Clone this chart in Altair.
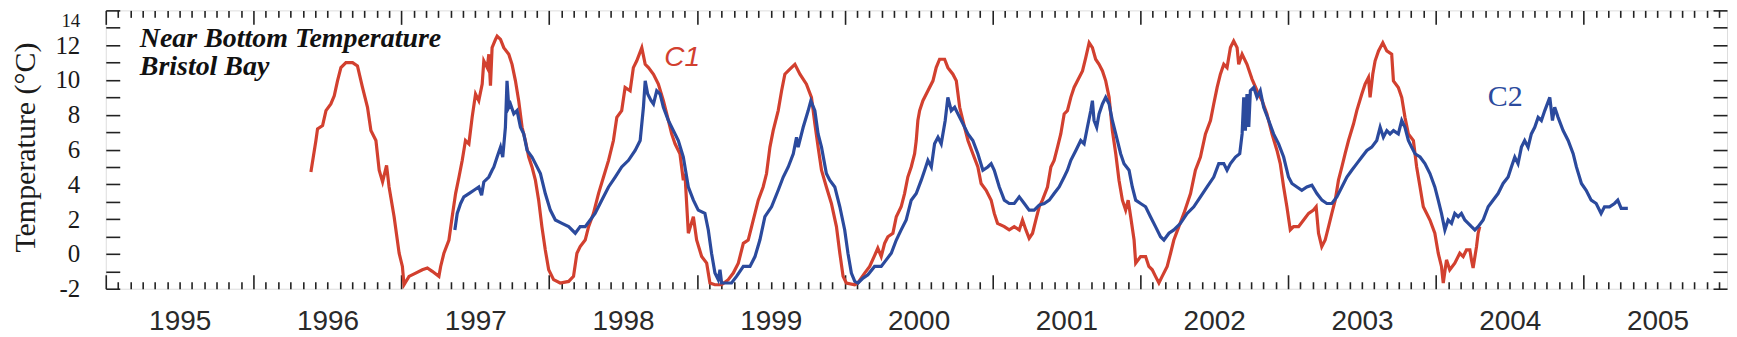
import altair as alt
import pandas as pd

# ---------------- data ----------------
c1_year = [1996.388, 1996.422, 1996.433, 1996.467, 1996.490, 1996.523, 1996.546, 1996.568, 1996.591, 1996.625,
           1996.670, 1996.703, 1996.737, 1996.771, 1996.794, 1996.828, 1996.850, 1996.873, 1996.900, 1996.917,
           1996.951, 1996.985, 1997.007, 1997.018, 1997.052, 1997.097, 1997.142, 1997.176, 1997.209, 1997.254,
           1997.266, 1997.288, 1997.322, 1997.344, 1997.367, 1997.390, 1997.412, 1997.434, 1997.457, 1997.479,
           1997.502, 1997.524, 1997.547, 1997.558, 1997.581, 1997.592, 1997.603, 1997.614, 1997.637, 1997.648,
           1997.671, 1997.693, 1997.727, 1997.749, 1997.772, 1997.794, 1997.817, 1997.839, 1997.862, 1997.884,
           1997.907, 1997.929, 1997.951, 1997.974, 1997.997, 1998.030, 1998.075, 1998.132, 1998.165, 1998.188,
           1998.210, 1998.244, 1998.267, 1998.300, 1998.334, 1998.368, 1998.402, 1998.435, 1998.458, 1998.491,
           1998.514, 1998.548, 1998.570, 1998.593, 1998.627, 1998.650, 1998.672, 1998.706, 1998.739, 1998.773,
           1998.807, 1998.829, 1998.852, 1998.885, 1998.908, 1998.919, 1998.942, 1998.976, 1998.998, 1999.032,
           1999.066, 1999.088, 1999.122, 1999.167, 1999.212, 1999.246, 1999.280, 1999.314, 1999.347, 1999.370,
           1999.415, 1999.448, 1999.471, 1999.494, 1999.516, 1999.550, 1999.573, 1999.595, 1999.629, 1999.663,
           1999.697, 1999.741, 1999.775, 1999.798, 1999.820, 1999.843, 1999.876, 1999.910, 1999.944, 1999.967,
           1999.989, 2000.011, 2000.068, 2000.089, 2000.135, 2000.169, 2000.202, 2000.224, 2000.247, 2000.270,
           2000.292, 2000.326, 2000.349, 2000.382, 2000.405, 2000.427, 2000.450, 2000.473, 2000.484, 2000.495,
           2000.507, 2000.529, 2000.563, 2000.597, 2000.619, 2000.642, 2000.676, 2000.698, 2000.732, 2000.755,
           2000.778, 2000.811, 2000.834, 2000.867, 2000.901, 2000.923, 2000.957, 2000.991, 2001.012, 2001.034,
           2001.080, 2001.113, 2001.147, 2001.181, 2001.203, 2001.226, 2001.248, 2001.271, 2001.293, 2001.316,
           2001.338, 2001.372, 2001.395, 2001.417, 2001.440, 2001.462, 2001.485, 2001.507, 2001.530, 2001.552,
           2001.575, 2001.609, 2001.631, 2001.654, 2001.676, 2001.698, 2001.721, 2001.744, 2001.766, 2001.789,
           2001.811, 2001.834, 2001.856, 2001.879, 2001.901, 2001.918, 2001.935, 2001.958, 2001.969, 2002.002,
           2002.036, 2002.058, 2002.081, 2002.103, 2002.126, 2002.148, 2002.182, 2002.205, 2002.227, 2002.261,
           2002.295, 2002.340, 2002.373, 2002.407, 2002.441, 2002.475, 2002.497, 2002.520, 2002.542, 2002.565,
           2002.587, 2002.610, 2002.632, 2002.655, 2002.666, 2002.689, 2002.722, 2002.756, 2002.790, 2002.824,
           2002.857, 2002.891, 2002.925, 2002.947, 2002.970, 2002.992, 2003.015, 2003.037, 2003.071, 2003.105,
           2003.139, 2003.172, 2003.190, 2003.206, 2003.228, 2003.251, 2003.274, 2003.296, 2003.319, 2003.341,
           2003.364, 2003.386, 2003.409, 2003.443, 2003.465, 2003.499, 2003.521, 2003.544, 2003.555, 2003.573,
           2003.589, 2003.612, 2003.641, 2003.668, 2003.701, 2003.713, 2003.746, 2003.769, 2003.791, 2003.814,
           2003.848, 2003.870, 2003.893, 2003.915, 2003.938, 2003.960, 2003.993, 2004.016, 2004.038, 2004.050,
           2004.072, 2004.094, 2004.128, 2004.162, 2004.185, 2004.207, 2004.230, 2004.241, 2004.252, 2004.275,
           2004.286, 2004.297]
c1_temp = [4.71, 6.52, 7.19, 7.38, 8.24, 8.62, 9.09, 9.95, 10.71, 11.00,
           11.00, 10.81, 9.57, 8.43, 7.09, 6.52, 4.81, 4.14, 5.09, 3.85,
           2.14, 0.04, -0.72, -1.77, -1.29, -1.10, -0.91, -0.81, -1.00, -1.29,
           -0.72, 0.04, 0.80, 2.14, 3.47, 4.42, 5.38, 6.52, 6.33, 7.85,
           9.19, 8.81, 9.76, 11.10, 10.71, 11.48, 9.67, 11.86, 12.33, 12.52,
           12.33, 11.86, 11.48, 10.90, 9.95, 8.81, 7.28, 6.52, 5.57, 5.00,
           4.24, 3.09, 1.57, 0.23, -0.91, -1.48, -1.67, -1.58, -1.29, 0.04,
           0.42, 0.80, 1.57, 2.33, 3.47, 4.42, 5.38, 6.52, 7.85, 8.24,
           9.57, 9.38, 10.71, 11.10, 11.86, 10.90, 10.71, 10.33, 9.76, 8.81,
           7.67, 6.90, 6.33, 5.76, 4.24, 4.62, 1.19, 2.14, 0.80, -0.15,
           -0.53, -1.67, -1.77, -1.77, -1.48, -1.10, -0.53, 0.61, 0.80, 1.57,
           3.09, 3.85, 4.62, 6.14, 7.09, 8.24, 9.38, 10.33, 10.62, 10.90,
           10.33, 9.76, 9.00, 7.48, 6.14, 4.81, 3.85, 2.90, 1.57, 0.04,
           -1.29, -1.67, -1.77, -1.67, -1.10, -0.72, -0.10, 0.33, -0.15, 0.61,
           0.99, 1.19, 2.14, 2.71, 3.47, 4.42, 5.00, 5.76, 6.52, 7.67,
           8.24, 8.81, 9.38, 9.95, 10.71, 11.19, 11.19, 10.71, 10.33, 9.95,
           8.43, 7.28, 6.52, 5.76, 5.00, 4.05, 3.66, 3.09, 2.33, 1.76,
           1.57, 1.38, 1.57, 1.38, 1.95, 1.38, 0.90, 1.19, 1.95, 2.71,
           3.09, 3.85, 5.00, 5.38, 6.14, 6.90, 8.05, 8.24, 9.00, 9.57,
           9.95, 10.52, 11.28, 12.14, 11.86, 11.19, 10.90, 10.52, 9.95, 9.00,
           7.09, 5.76, 4.24, 3.09, 2.52, 3.09, 2.14, 0.80, -0.53, -0.15,
           -0.15, -0.72, -0.91, -1.29, -1.67, -1.29, -0.72, 0.04, 0.80, 1.57,
           2.33, 3.47, 4.81, 5.57, 6.90, 7.67, 8.62, 9.57, 10.33, 10.90,
           10.71, 11.86, 12.24, 11.86, 10.90, 11.48, 10.90, 10.05, 9.38, 8.81,
           8.05, 6.90, 5.95, 5.19, 3.85, 2.71, 1.38, 1.57, 1.57, 1.95,
           2.33, 2.52, 2.71, 1.19, 0.42, 0.80, 1.57, 2.33, 3.09, 4.24,
           5.00, 5.76, 6.52, 7.48, 8.24, 9.19, 9.76, 10.14, 9.00, 10.33,
           11.10, 11.67, 12.14, 11.67, 11.48, 9.95, 9.57, 9.00, 7.85, 6.90,
           6.52, 5.00, 3.85, 2.71, 2.33, 1.95, 1.19, 0.04, -0.72, -1.67,
           -0.34, -0.91, -0.53, 0.04, -0.15, 0.23, 0.23, -0.34, -0.81, 0.42,
           1.19, 1.57]

c2_year = [1997.362, 1997.378, 1997.401, 1997.423, 1997.457, 1997.491, 1997.524, 1997.543, 1997.558, 1997.592,
           1997.614, 1997.626, 1997.648, 1997.671, 1997.686, 1997.704, 1997.715, 1997.727, 1997.738, 1997.761,
           1997.783, 1997.806, 1997.828, 1997.851, 1997.884, 1997.907, 1997.941, 1997.974, 1998.008, 1998.042,
           1998.087, 1998.132, 1998.177, 1998.210, 1998.244, 1998.278, 1998.311, 1998.356, 1998.402, 1998.447,
           1998.491, 1998.537, 1998.582, 1998.616, 1998.638, 1998.650, 1998.667, 1998.690, 1998.706, 1998.728,
           1998.751, 1998.773, 1998.807, 1998.841, 1998.874, 1998.908, 1998.942, 1998.976, 1999.009, 1999.054,
           1999.077, 1999.099, 1999.122, 1999.144, 1999.156, 1999.167, 1999.234, 1999.268, 1999.314, 1999.359,
           1999.393, 1999.426, 1999.460, 1999.505, 1999.550, 1999.584, 1999.618, 1999.652, 1999.674, 1999.685,
           1999.719, 1999.753, 1999.771, 1999.798, 1999.820, 1999.843, 1999.876, 1999.899, 1999.933, 1999.967,
           2000.000, 2000.022, 2000.045, 2000.068, 2000.090, 2000.124, 2000.157, 2000.202, 2000.247, 2000.281,
           2000.315, 2000.349, 2000.382, 2000.416, 2000.450, 2000.484, 2000.518, 2000.541, 2000.563, 2000.586,
           2000.608, 2000.631, 2000.653, 2000.680, 2000.698, 2000.721, 2000.744, 2000.766, 2000.800, 2000.834,
           2000.867, 2000.901, 2000.935, 2000.968, 2000.991, 2001.012, 2001.046, 2001.080, 2001.113, 2001.147,
           2001.181, 2001.215, 2001.248, 2001.282, 2001.316, 2001.350, 2001.384, 2001.417, 2001.451, 2001.485,
           2001.507, 2001.530, 2001.564, 2001.597, 2001.620, 2001.642, 2001.665, 2001.676, 2001.687, 2001.705,
           2001.721, 2001.744, 2001.766, 2001.789, 2001.811, 2001.834, 2001.867, 2001.890, 2001.924, 2001.946,
           2001.969, 2002.002, 2002.036, 2002.069, 2002.103, 2002.137, 2002.160, 2002.194, 2002.227, 2002.272,
           2002.317, 2002.362, 2002.407, 2002.452, 2002.497, 2002.531, 2002.565, 2002.587, 2002.610, 2002.644,
           2002.673, 2002.689, 2002.700, 2002.711, 2002.722, 2002.734, 2002.745, 2002.768, 2002.790, 2002.812,
           2002.835, 2002.869, 2002.902, 2002.936, 2002.970, 2003.003, 2003.026, 2003.060, 2003.093, 2003.127,
           2003.161, 2003.195, 2003.229, 2003.262, 2003.296, 2003.330, 2003.364, 2003.398, 2003.431, 2003.465,
           2003.499, 2003.533, 2003.566, 2003.600, 2003.623, 2003.645, 2003.668, 2003.690, 2003.713, 2003.746,
           2003.769, 2003.791, 2003.814, 2003.836, 2003.859, 2003.893, 2003.926, 2003.960, 2003.993, 2004.016,
           2004.038, 2004.061, 2004.083, 2004.106, 2004.128, 2004.151, 2004.173, 2004.196, 2004.219, 2004.241,
           2004.264, 2004.286, 2004.320, 2004.354, 2004.387, 2004.421, 2004.455, 2004.489, 2004.511, 2004.534,
           2004.556, 2004.579, 2004.601, 2004.624, 2004.646, 2004.669, 2004.692, 2004.714, 2004.737, 2004.771,
           2004.789, 2004.804, 2004.827, 2004.861, 2004.895, 2004.929, 2004.951, 2004.985, 2005.017, 2005.051,
           2005.085, 2005.118, 2005.141, 2005.175, 2005.209, 2005.231, 2005.254, 2005.299]
c2_temp = [1.38, 2.33, 2.90, 3.28, 3.47, 3.66, 3.85, 3.38, 4.14, 4.42,
           4.81, 5.00, 5.57, 6.14, 5.57, 7.28, 9.95, 8.43, 8.62, 8.05,
           8.24, 7.28, 6.90, 5.95, 5.57, 5.19, 4.62, 3.47, 2.52, 1.95,
           1.76, 1.57, 1.19, 1.57, 1.57, 1.95, 2.33, 3.09, 3.85, 4.42,
           5.00, 5.38, 5.95, 6.52, 8.43, 9.95, 9.19, 8.81, 8.62, 9.38,
           9.19, 8.43, 7.67, 7.09, 6.52, 5.57, 3.85, 3.09, 2.52, 2.33,
           1.38, 0.04, -1.10, -1.48, -0.91, -1.67, -1.67, -1.29, -0.72, -0.72,
           -0.15, 0.80, 2.14, 2.71, 3.66, 4.42, 5.00, 5.76, 6.71, 6.14,
           7.28, 8.24, 8.81, 8.24, 6.90, 6.14, 4.62, 4.24, 3.85, 2.71,
           1.38, 0.04, -1.10, -1.58, -1.67, -1.39, -1.20, -0.72, -0.72, -0.34,
           0.04, 0.80, 1.38, 1.95, 3.09, 3.47, 4.24, 4.81, 5.38, 5.00,
           6.33, 6.71, 6.33, 7.67, 9.00, 8.24, 8.43, 8.05, 7.48, 6.90,
           6.52, 5.76, 4.81, 5.00, 5.19, 4.81, 3.85, 3.09, 2.90, 2.90,
           3.28, 2.90, 2.52, 2.52, 2.81, 2.90, 3.09, 3.47, 3.85, 4.42,
           4.81, 5.38, 5.95, 6.52, 6.33, 7.28, 8.24, 8.81, 7.67, 7.28,
           8.05, 8.62, 9.00, 8.62, 7.67, 6.90, 5.76, 5.19, 4.81, 3.85,
           3.09, 2.90, 2.71, 2.14, 1.57, 0.99, 0.80, 1.19, 1.38, 1.76,
           2.33, 2.71, 3.28, 3.85, 4.42, 5.19, 5.19, 4.81, 5.19, 5.57,
           5.76, 6.90, 9.00, 7.09, 9.19, 7.30, 9.38, 9.57, 9.00, 9.38,
           8.43, 7.67, 6.90, 6.33, 5.57, 4.42, 4.05, 3.85, 3.66, 3.85,
           3.95, 3.47, 3.09, 2.90, 2.90, 3.28, 3.85, 4.42, 4.81, 5.19,
           5.57, 5.95, 6.14, 6.52, 7.28, 6.71, 7.09, 6.90, 7.09, 6.90,
           7.67, 7.28, 6.52, 6.14, 5.76, 5.57, 5.19, 4.62, 3.85, 3.09,
           2.33, 1.38, 1.95, 1.76, 2.33, 2.14, 2.33, 1.95, 1.76, 1.57,
           1.38, 1.57, 1.95, 2.71, 3.09, 3.47, 4.05, 4.42, 5.00, 5.57,
           5.19, 6.14, 6.52, 6.14, 6.90, 7.28, 7.85, 7.67, 8.24, 9.00,
           7.67, 8.43, 7.85, 7.09, 6.52, 5.76, 5.00, 4.05, 3.66, 3.09,
           2.90, 2.33, 2.71, 2.71, 2.90, 3.09, 2.62, 2.62]

series_names = ["C1", "C2"]
series_colors = ["#d2402f", "#2b4a9d"]
year_list = list(range(1995, 2006))
y_ticks = list(range(-2, 15))
y_labels = list(range(-2, 15, 2))

note_text = ["Near Bottom Temperature", "Bristol Bay"]
note_year = [1995.23, 1995.23]
note_temp = [11.9, 10.3]

tag_year = [1998.90, 2004.47]
tag_temp = [11.28, 9.0]

# ---------------- build tables ----------------
df = pd.concat([
    pd.DataFrame({"year": c1_year, "temp": c1_temp, "series": "C1"}),
    pd.DataFrame({"year": c2_year, "temp": c2_temp, "series": "C2"}),
], ignore_index=True)

notes = pd.DataFrame({"year": note_year, "temp": note_temp, "label": note_text})
tags = pd.DataFrame({"year": tag_year, "temp": tag_temp, "label": series_names})

X_DOMAIN = [1995.0, 2005.97]
xs = alt.Scale(domain=X_DOMAIN, nice=False, zero=False)
ys = alt.Scale(domain=[-2, 14], nice=False, zero=False)

TICK = "#222222"
major_x = [float(y) for y in year_list]
minor_x = [1995 + k / 12 for k in range(1, 12 * 11) if k % 12 != 0 and 1995 + k / 12 < X_DOMAIN[1]]
label_x = [y + 0.5 for y in year_list]


def tick_axis(orient, values, size):
    return alt.Axis(orient=orient, values=values, tickSize=size, offset=-size, labels=False,
                    domain=False, grid=False, title=None, tickColor=TICK, tickWidth=1.6)


lines = alt.Chart(df).mark_line(strokeWidth=3.2, clip=True).encode(
    x=alt.X("year:Q", scale=xs, axis=alt.Axis(
        orient="bottom", values=label_x, ticks=False, tickSize=0, domain=False, grid=False,
        labelExpr="'' + floor(datum.value)", labelFont="Liberation Sans", labelFontSize=28,
        labelColor="#2a2a2a", labelPadding=19, labelFlush=False, labelOverlap=False, title=None)),
    y=alt.Y("temp:Q", scale=ys, axis=alt.Axis(
        orient="left", values=y_labels, ticks=False, tickSize=0, domain=False, grid=False,
        labelExpr="datum.value < 0 ? '-' + abs(datum.value) : '' + datum.value",
        labelFont="Liberation Serif", labelColor="#1a1a1a", labelPadding=26,
        labelFontSize={"condition": {"test": "datum.value == 14", "value": 19}, "value": 25},
        labelOffset={"condition": {"test": "datum.value == 14", "value": 10}, "value": 0},
        labelFlush=False, labelOverlap=False,
        title="Temperature (°C)", titleFont="Liberation Serif", titleFontSize=30,
        titleFontWeight="normal", titleColor="#1a1a1a", titleAngle=270, titleAlign="center",
        titleBaseline="alphabetic", titleX=-71, titleY=137)),
    color=alt.Color("series:N", scale=alt.Scale(domain=series_names, range=series_colors), legend=None),
    detail="series:N",
)

ghost = alt.Chart(df).mark_line(strokeOpacity=0, opacity=0)

g1 = ghost.encode(x=alt.X("year:Q", scale=xs, axis=tick_axis("bottom", major_x, 14)),
                  y=alt.Y("temp:Q", scale=ys, axis=tick_axis("left", y_ticks, 14)), detail="series:N")
g2 = ghost.encode(x=alt.X("year:Q", scale=xs, axis=tick_axis("bottom", minor_x, 7)),
                  y=alt.Y("temp:Q", scale=ys, axis=tick_axis("right", y_ticks, 14)), detail="series:N")
g3 = ghost.encode(x=alt.X("year:Q", scale=xs, axis=tick_axis("top", major_x, 14)),
                  y=alt.Y("temp:Q", scale=ys, axis=None), detail="series:N")
g4 = ghost.encode(x=alt.X("year:Q", scale=xs, axis=tick_axis("top", minor_x, 7)),
                  y=alt.Y("temp:Q", scale=ys, axis=None), detail="series:N")

note_layer = alt.Chart(notes).mark_text(
    align="left", baseline="alphabetic", font="Liberation Serif", fontSize=28,
    fontWeight="bold", fontStyle="italic", color="#111111"
).encode(x=alt.X("year:Q", scale=xs, axis=None), y=alt.Y("temp:Q", scale=ys, axis=None), text="label:N")

c1_tag = alt.Chart(tags[tags.label == "C1"]).mark_text(
    align="center", baseline="middle", font="Liberation Sans", fontSize=28, fontStyle="italic",
    color=series_colors[0]
).encode(x=alt.X("year:Q", scale=xs, axis=None), y=alt.Y("temp:Q", scale=ys, axis=None), text="label:N")

c2_tag = alt.Chart(tags[tags.label == "C2"]).mark_text(
    align="center", baseline="middle", font="Liberation Serif", fontSize=30,
    color=series_colors[1]
).encode(x=alt.X("year:Q", scale=xs, axis=None), y=alt.Y("temp:Q", scale=ys, axis=None), text="label:N")

chart = alt.layer(g1, g2, g3, g4, lines, note_layer, c1_tag, c2_tag).resolve_axis(
    x="independent", y="independent"
).properties(
    width=1625, height=279,
    autosize=alt.AutoSizeParams(type="none"),
    padding={"left": 98, "top": 2, "right": 2, "bottom": 48},
).configure_view(stroke="#1a1a1a", strokeWidth=2.2).configure(background="white")

chart.save("out.html", embed_options={"renderer": "svg", "actions": False})
